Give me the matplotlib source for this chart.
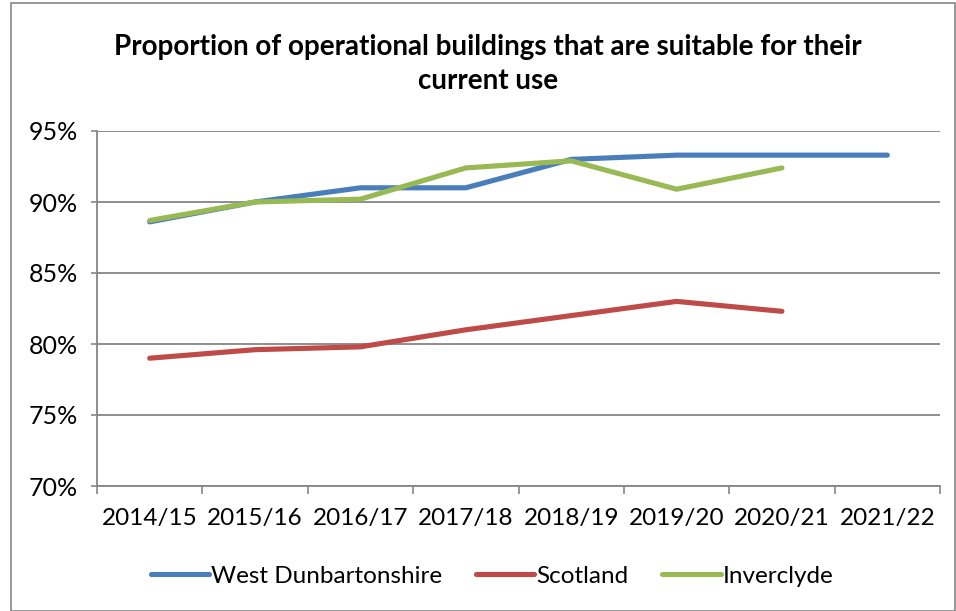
import matplotlib
matplotlib.use("Agg")
import matplotlib.pyplot as plt
from matplotlib.patches import Rectangle
from matplotlib.ticker import FixedLocator, FuncFormatter

categories = ["2014/15", "2015/16", "2016/17", "2017/18", "2018/19", "2019/20", "2020/21", "2021/22"]
west_dunbartonshire = [88.6, 90.0, 91.0, 91.0, 93.0, 93.3, 93.3, 93.3]
scotland = [79.0, 79.6, 79.8, 81.0, 82.0, 83.0, 82.3]
inverclyde = [88.7, 90.0, 90.2, 92.4, 92.9, 90.9, 92.4]
y_ticks = [70, 75, 80, 85, 90, 95]

plt.rcParams['font.family'] = ['Lato', 'DejaVu Sans']

W, H = 956, 611
fig = plt.figure(figsize=(W / 100, H / 100), dpi=100)
fig.patches.append(Rectangle((11 / W, 0), 1 - 12 / W, 1 - 3 / H, transform=fig.transFigure,
                             fill=False, edgecolor="#868686", linewidth=1.2))

ax = fig.add_axes([97 / W, 1 - 486 / H, (940 - 97) / W, (486 - 131) / H])
x = list(range(len(categories)))
lw = 3.7
ax.plot(x[:len(west_dunbartonshire)], west_dunbartonshire, color="#4A7EBB", lw=lw,
        solid_capstyle="round", solid_joinstyle="round", label="West Dunbartonshire")
ax.plot(x[:len(scotland)], scotland, color="#BE4B48", lw=lw,
        solid_capstyle="round", solid_joinstyle="round", label="Scotland")
ax.plot(x[:len(inverclyde)], inverclyde, color="#98B954", lw=lw,
        solid_capstyle="round", solid_joinstyle="round", label="Inverclyde")

ax.set_xlim(-0.5, len(categories) - 0.5)
ax.set_ylim(70, 95)
ax.yaxis.set_major_locator(FixedLocator(y_ticks))
ax.yaxis.set_major_formatter(FuncFormatter(lambda v, p: f"{v:.0f}%"))
ax.grid(axis="y", color="#868686", lw=1.3)
ax.set_axisbelow(True)
ax.set_xticks(x)
ax.set_xticklabels(categories)
ax.set_xticks([i - 0.5 for i in range(len(categories) + 1)], minor=True)
ax.tick_params(axis="x", which="major", length=0, pad=16, labelsize=17.5, colors="#000000")
ax.tick_params(axis="x", which="minor", length=5.5, width=1.2, color="#868686", direction="out")
ax.tick_params(axis="y", length=4.5, width=1.2, color="#868686", labelsize=18, pad=9)
for s in ["top", "right"]:
    ax.spines[s].set_visible(False)
for s in ["left", "bottom"]:
    ax.spines[s].set_color("#868686")
    ax.spines[s].set_linewidth(1.3)

fig.text(488 / W, 1 - 47 / H, "Proportion of operational buildings that are suitable for their",
         ha="center", va="center", fontsize=20, fontweight="bold")
fig.text(488 / W, 1 - 81 / H, "current use", ha="center", va="center", fontsize=20, fontweight="bold")

leg = fig.legend(loc="center", bbox_to_anchor=(492 / W, 1 - 576 / H), ncol=3, frameon=False,
                 fontsize=17.5, handlelength=2.4, handletextpad=0.08, columnspacing=1.4)

fig.savefig("out.png", dpi=100)
